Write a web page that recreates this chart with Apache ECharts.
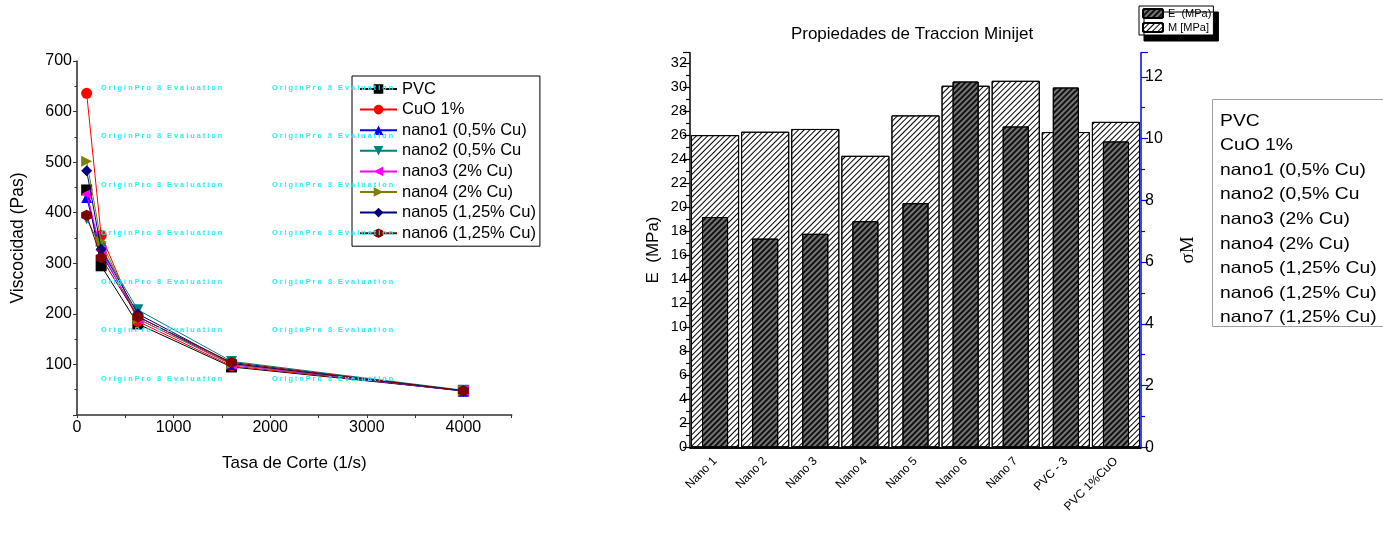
<!DOCTYPE html>
<html>
<head>
<meta charset="utf-8">
<script src="https://cdn.jsdelivr.net/npm/echarts@6/dist/echarts.min.js"></script>
<style>
html,body{margin:0;padding:0;background:#fff;}
#c{width:1383px;height:534px;}
</style>
</head>
<body>
<div id="c"></div>
<script>
// ---------- Data: left chart (viscosity vs shear rate) ----------
var shearRates = [100, 250, 630, 1600, 4000];
var lineNames = ['PVC', 'CuO 1%', 'nano1 (0,5% Cu)', 'nano2 (0,5% Cu', 'nano3 (2% Cu)', 'nano4 (2% Cu)', 'nano5 (1,25% Cu)', 'nano6 (1,25% Cu)'];
var viscPVC   = [445, 295, 180, 95, 48];
var viscCuO   = [636, 355, 185, 97, 48];
var viscNano1 = [430, 320, 195, 100, 47];
var viscNano2 = [388, 330, 208, 106, 49];
var viscNano3 = [437, 325, 190, 100, 48];
var viscNano4 = [502, 343, 190, 101, 48];
var viscNano5 = [483, 328, 200, 102, 48];
var viscNano6 = [395, 311, 194, 104, 48];

// ---------- Data: right chart (tensile properties) ----------
var categories = ['Nano 1', 'Nano 2', 'Nano 3', 'Nano 4', 'Nano 5', 'Nano 6', 'Nano 7', 'PVC - 3', 'PVC 1%CuO'];
var valuesE = [19.2, 17.4, 17.8, 18.85, 20.35, 30.5, 26.75, 30.0, 25.5];
var valuesM = [10.11, 10.22, 10.31, 9.44, 10.75, 11.71, 11.87, 10.21, 10.54];
var sideLegend = ['PVC', 'CuO 1%', 'nano1 (0,5% Cu)', 'nano2 (0,5% Cu', 'nano3 (2% Cu)', 'nano4 (2% Cu)', 'nano5 (1,25% Cu)', 'nano6 (1,25% Cu)', 'nano7 (1,25% Cu)'];

var FONT = '"Liberation Sans", Arial, sans-serif';
var chart = echarts.init(document.getElementById('c'), null, {renderer: 'canvas'});

function pairs(vals) { return shearRates.map(function (x, i) { return [x, vals[i]]; }); }

var hexPath = 'path://M50,0 L93.3,25 L93.3,75 L50,100 L6.7,75 L6.7,25 Z';
var lineDefs = [
  {v: viscPVC, c: '#000000', s: 'rect', z: 10},
  {v: viscCuO, c: '#ff0000', s: 'circle', z: 11},
  {v: viscNano1, c: '#0000ff', s: 'triangle', z: 12},
  {v: viscNano2, c: '#008080', s: 'triangle', r: 180, z: 13},
  {v: viscNano3, c: '#ff00ff', s: 'triangle', r: 90, z: 14},
  {v: viscNano4, c: '#808000', s: 'triangle', r: -90, z: 15},
  {v: viscNano5, c: '#000080', s: 'diamond', z: 16},
  {v: viscNano6, c: '#800000', s: hexPath, z: 17}
];

var series = lineDefs.map(function (d, i) {
  return {
    type: 'line', name: lineNames[i], xAxisIndex: 0, yAxisIndex: 0,
    data: pairs(d.v), symbol: d.s, symbolSize: 11, symbolRotate: d.r || 0,
    showAllSymbol: true,
    lineStyle: {color: d.c, width: 1}, itemStyle: {color: d.c, borderWidth: 0},
    z: d.z, animation: false
  };
});

var decalLight = {symbol: 'rect', symbolSize: 1, color: '#000', dashArrayX: [1, 0], dashArrayY: [1, 2.2], rotation: -Math.PI / 4};
var decalDark = {symbol: 'rect', symbolSize: 1, color: '#111', dashArrayX: [1, 0], dashArrayY: [1.2, 1.5], rotation: -Math.PI / 4};

series.push({
  type: 'bar', name: 'M [MPa]', xAxisIndex: 2, yAxisIndex: 2, data: valuesM,
  barWidth: '96%',
  itemStyle: {color: '#ffffff', borderColor: '#000', borderWidth: 1, decal: decalLight},
  z: 2, animation: false
});
series.push({
  type: 'bar', name: 'E  (MPa)', xAxisIndex: 1, yAxisIndex: 1, data: valuesE,
  barWidth: '52%',
  itemStyle: {color: '#767676', borderColor: '#000', borderWidth: 1, decal: decalDark},
  z: 3, animation: false
});

// watermark texts
var graphics = [];
var wm = 'O r i g i n P r o   8   E v a l u a t i o n';
var wmRows = [88.5, 136.8, 185.2, 233.6, 282, 330.5, 379];
var wmCols = [101, 272];
wmRows.forEach(function (y) {
  wmCols.forEach(function (x) {
    graphics.push({type: 'text', left: x, top: y - 4, z: 100, silent: true,
      style: {text: wm, fill: '#1ef2f2', font: 'bold 7.3px ' + FONT}});
  });
});
// right side list box
graphics.push({type: 'rect', shape: {x: 1212.5, y: 99.5, width: 200, height: 227}, z: 50,
  style: {fill: '#fff', stroke: '#a0a0a0', lineWidth: 1}});
sideLegend.forEach(function (t, i) {
  graphics.push({type: 'text', x: 1220, y: 121 + i * 24.6, scaleX: 1.17, z: 51,
    style: {text: t, fill: '#000', font: '16.5px ' + FONT, textVerticalAlign: 'middle', verticalAlign: 'middle'}});
});

var option = {
  backgroundColor: '#fff',
  animation: false,
  title: {text: 'Propiedades de Traccion Minijet', left: 907, textAlign: 'center', top: 21,
    textStyle: {fontFamily: FONT, fontSize: 17, fontWeight: 'normal', color: '#000'}},
  legend: [
    {data: lineNames, orient: 'vertical', left: 352, top: 76, itemWidth: 37, itemHeight: 12, itemGap: 3.6,
      padding: [4.5, 4, 4.5, 7], borderColor: '#000', borderWidth: 1, backgroundColor: '#fff',
      textStyle: {fontFamily: FONT, fontSize: 16.5, color: '#000'}, selectedMode: false},
    {data: ['E  (MPa)', 'M [MPa]'], orient: 'vertical', left: 1139, top: 6, itemWidth: 20, itemHeight: 9, itemGap: 3,
      padding: [2, 2, 2, 3], borderColor: '#000', borderWidth: 1, backgroundColor: '#fff',
      shadowColor: '#000', shadowBlur: 0, shadowOffsetX: 5, shadowOffsetY: 6,
      textStyle: {fontFamily: FONT, fontSize: 11, color: '#000'}, selectedMode: false}
  ],
  grid: [
    {left: 77, top: 61, width: 434.7, height: 354},
    {left: 690, top: 52.7, width: 451, height: 394.6}
  ],
  xAxis: [
    {type: 'value', gridIndex: 0, min: 0, max: 4500, interval: 1000,
      name: 'Tasa de Corte (1/s)', nameLocation: 'middle', nameGap: 40,
      nameTextStyle: {fontFamily: FONT, fontSize: 17, color: '#000'},
      axisLine: {lineStyle: {color: '#333', width: 1.6}},
      axisTick: {length: 3, lineStyle: {color: '#333'}},
      minorTick: {show: true, splitNumber: 2, length: 3, lineStyle: {color: '#333'}},
      splitLine: {show: false},
      axisLabel: {showMaxLabel: false, formatter: function (v) { return String(v); },
        fontFamily: FONT, fontSize: 16, color: '#000', margin: 5}},
    {type: 'category', gridIndex: 1, position: 'bottom', data: categories, boundaryGap: true,
      axisLine: {lineStyle: {color: '#000', width: 1.5}},
      axisTick: {alignWithLabel: true, length: 7, lineStyle: {color: '#000', width: 1.2}},
      axisLabel: {rotate: 45, interval: 0, fontFamily: FONT, fontSize: 12, color: '#000', margin: 12}},
    {type: 'category', gridIndex: 1, position: 'top', data: categories, boundaryGap: true,
      axisLine: {lineStyle: {color: '#000', width: 1.5}},
      axisTick: {alignWithLabel: true, inside: true, length: 7, lineStyle: {color: '#000', width: 1.2}},
      axisLabel: {show: false}},
    {type: 'category', gridIndex: 1, position: 'bottom', data: categories, boundaryGap: true,
      axisLine: {show: false},
      axisTick: {length: 3.5, interval: 0, lineStyle: {color: '#000', width: 1.2}},
      axisLabel: {show: false}},
    {type: 'category', gridIndex: 1, position: 'top', data: categories, boundaryGap: true,
      axisLine: {show: false},
      axisTick: {inside: true, interval: 0, length: 3.5, lineStyle: {color: '#000', width: 1.2}},
      axisLabel: {show: false}}
  ],
  yAxis: [
    {type: 'value', gridIndex: 0, min: 0, max: 700, interval: 100,
      name: 'Viscocidad (Pas)', nameLocation: 'middle', nameGap: 50, nameRotate: 90,
      nameTextStyle: {fontFamily: FONT, fontSize: 17.5, color: '#000'},
      axisLine: {show: true, lineStyle: {color: '#333', width: 1.6}},
      axisTick: {show: true, length: 4, lineStyle: {color: '#333'}},
      minorTick: {show: true, splitNumber: 2, length: 2.5, lineStyle: {color: '#333'}},
      splitLine: {show: false},
      axisLabel: {showMinLabel: false, fontFamily: FONT, fontSize: 16, color: '#000', margin: 5}},
    {type: 'value', gridIndex: 1, position: 'left', min: 0, max: 32.9, interval: 2,
      name: 'E  (MPa)', nameLocation: 'middle', nameGap: 28, nameRotate: 90,
      nameTextStyle: {fontFamily: FONT, fontSize: 17, color: '#000'},
      axisLine: {show: true, lineStyle: {color: '#000', width: 1.5}},
      axisTick: {show: true, length: 7, lineStyle: {color: '#000', width: 1.2}},
      minorTick: {show: true, splitNumber: 2, length: 4, lineStyle: {color: '#000', width: 1.2}},
      splitLine: {show: false},
      axisLabel: {showMaxLabel: false, fontFamily: FONT, fontSize: 14.5, color: '#000', margin: 3}},
    {type: 'value', gridIndex: 1, position: 'right', min: 0, max: 12.78, interval: 2,
      name: 'σM', nameLocation: 'middle', nameGap: 38, nameRotate: 90,
      nameTextStyle: {fontFamily: '"Liberation Serif", "DejaVu Serif", serif', fontSize: 19, color: '#000'},
      axisLine: {show: true, lineStyle: {color: '#0000ff', width: 1.5}},
      axisTick: {show: true, length: 7, lineStyle: {color: '#0000ff', width: 1.2}},
      minorTick: {show: true, splitNumber: 2, length: 4, lineStyle: {color: '#0000ff', width: 1.2}},
      splitLine: {show: false},
      axisLabel: {showMaxLabel: false, fontFamily: FONT, fontSize: 16, color: '#000', margin: 4}}
  ],
  series: series,
  graphic: graphics
};
chart.setOption(option);
</script>
</body>
</html>
